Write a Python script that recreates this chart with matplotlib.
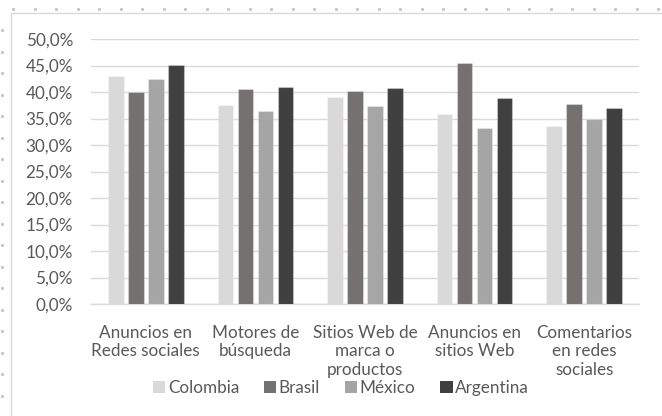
import matplotlib
matplotlib.use("Agg")
import matplotlib.pyplot as plt
import numpy as np
from matplotlib.patches import Rectangle, Patch
from matplotlib.lines import Line2D

categories = ["Anuncios en\nRedes sociales", "Motores de\nbúsqueda", "Sitios Web de\nmarca o\nproductos",
              "Anuncios en\nsitios Web", "Comentarios\nen redes\nsociales"]
series_names = ["Colombia", "Brasil", "México", "Argentina"]
colombia = [43.1, 37.5, 39.1, 35.8, 33.5]
brasil = [40.0, 40.5, 40.1, 45.5, 37.8]
mexico = [42.5, 36.4, 37.3, 33.2, 35.0]
argentina = [45.1, 40.9, 40.8, 38.8, 37.0]
yticks = [0, 5, 10, 15, 20, 25, 30, 35, 40, 45, 50]
ytick_labels = ["0,0%", "5,0%", "10,0%", "15,0%", "20,0%", "25,0%", "30,0%", "35,0%", "40,0%", "45,0%", "50,0%"]

colors = ["#D9D9D9", "#767171", "#A5A5A5", "#404040"]
txt = "#595959"
font = "Lato"
fs = 12.3

W, H = 662, 416
fig = plt.figure(figsize=(W / 100, H / 100), dpi=100)
fig.patch.set_facecolor("white")

# worksheet dots and chart area border
dot_x = np.arange(13.3, W, 21.5)
fig.add_artist(Line2D(dot_x / W, np.full_like(dot_x, 1 - 9 / H), transform=fig.transFigure,
                      linestyle="none", marker="s", markersize=1.2, color="#C8C8C8"))
dot_y = np.arange(30, H, 21.5)
fig.add_artist(Line2D(np.full_like(dot_y, 2 / W), 1 - dot_y / H, transform=fig.transFigure,
                      linestyle="none", marker="s", markersize=1.2, color="#C8C8C8"))
fig.add_artist(Rectangle((10.5 / W, -0.1), 1.2, 1 - 13 / H + 0.1, transform=fig.transFigure,
                         facecolor="white", edgecolor="#D9D9D9", linewidth=1.0, zorder=0))

ax = fig.add_axes([91 / W, 1 - 304 / H, (639 - 91) / W, (304 - 39) / H])
ax.set_facecolor("none")
x = np.arange(len(categories))
step = 0.1825
width = 0.141
data = [colombia, brasil, mexico, argentina]
for i, (vals, c) in enumerate(zip(data, colors)):
    ax.bar(x + (i - 1.5) * step, vals, width=width, color=c, zorder=3, label=series_names[i],
           edgecolor=(1, 1, 1, 0.3), linewidth=0.8)

ax.set_xlim(-0.5, len(categories) - 0.5)
ax.set_ylim(0, 50)
ax.set_yticks(yticks)
ax.set_yticklabels(ytick_labels, fontfamily=font, fontsize=fs, color=txt)
ax.set_xticks(x)
ax.set_xticklabels(categories, fontfamily=font, fontsize=fs, color=txt, linespacing=1.2)
ax.tick_params(axis="both", length=0)
ax.tick_params(axis="y", pad=13)
ax.tick_params(axis="x", pad=15)
ax.grid(axis="y", color="#D9D9D9", linewidth=1.0, zorder=0)
for s in ["top", "right", "left"]:
    ax.spines[s].set_visible(False)
ax.spines["bottom"].set_color("#D9D9D9")
ax.spines["bottom"].set_linewidth(1.0)

handles = [Patch(facecolor=c, edgecolor="none") for c in colors]
fig.legend(handles, series_names, loc="center", bbox_to_anchor=(341 / W, 1 - 388 / H), ncol=4,
           frameon=False, prop={"family": font, "size": fs}, labelcolor=txt,
           handlelength=0.72, handleheight=0.72, handletextpad=0.15, columnspacing=1.45)

fig.savefig("out.png", dpi=100, facecolor="white")
